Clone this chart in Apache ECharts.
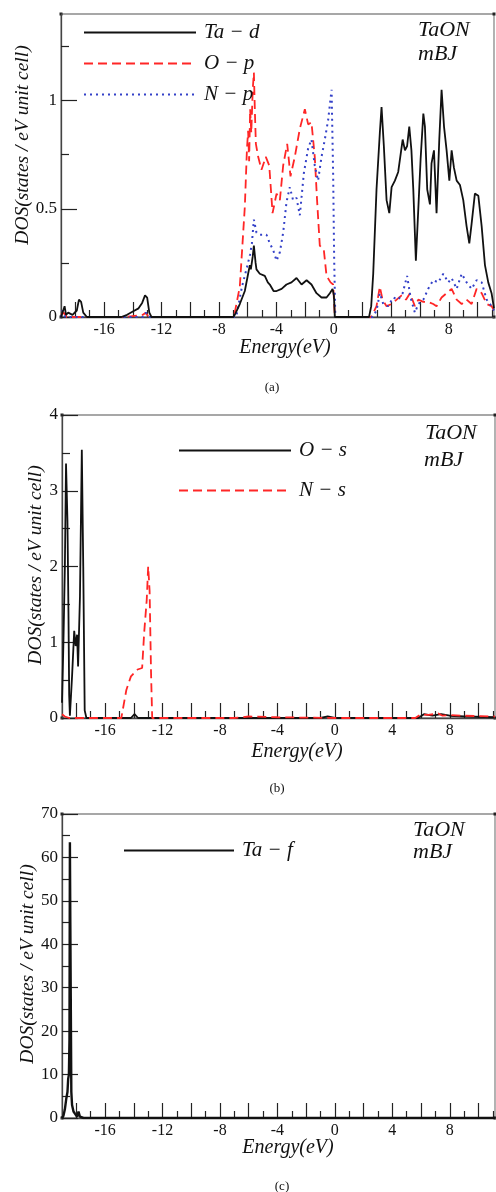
<!DOCTYPE html>
<html>
<head>
<meta charset="utf-8">
<script src="https://cdn.jsdelivr.net/npm/echarts@6/dist/echarts.min.js"></script>
<style>
html,body{margin:0;padding:0;background:#fff}
#main{width:496px;height:1192px}
</style>
</head>
<body>
<div id="main"></div>
<script>
// energy ticks (eV)
var eLabels = [-16, -12, -8, -4, 0, 4, 8];
var eMajor = [-18, -16, -14, -12, -10, -8, -6, -4, -2, 0, 2, 4, 6, 8, 10];
var eMinor = [-17, -15, -13, -11, -9, -7, -5, -3, -1, 1, 3, 5, 7, 9, 11];

// panel (a) y ticks
var yaMajor = [0, 0.5, 1];
var yaMinor = [0.25, 0.75, 1.25];
// panel (b) y ticks
var ybMajor = [0, 1, 2, 3, 4];
var ybMinor = [0.5, 1.5, 2.5, 3.5];
// panel (c) y ticks
var ycMajor = [0, 10, 20, 30, 40, 50, 60, 70];
var ycMinor = [5, 15, 25, 35, 45, 55, 65];

// (a) Ta-d
var taD = [[-19,0],[-18.9,0.02],[-18.75,0.05],[-18.65,0.01],[-18.5,0.02],[-18.2,0.01],[-17.9,0.03],[-17.75,0.08],[-17.6,0.07],[-17.45,0.02],[-17.2,0],
  [-14.8,0],[-14.4,0.01],[-14,0.025],[-13.6,0.04],[-13.35,0.065],[-13.15,0.1],[-13.0,0.09],[-12.85,0.02],[-12.7,0],
  [-7,0],[-6.9,0.01],[-6.55,0.06],[-6.2,0.12],[-5.97,0.2],[-5.85,0.24],[-5.78,0.22],[-5.65,0.28],[-5.57,0.33],[-5.45,0.25],[-5.39,0.22],
  [-5.16,0.2],[-4.81,0.19],[-4.6,0.16],[-4.46,0.15],[-4.2,0.12],[-3.99,0.12],[-3.64,0.13],[-3.3,0.15],[-2.95,0.16],[-2.6,0.18],
  [-2.25,0.15],[-1.9,0.17],[-1.56,0.15],[-1.21,0.11],[-0.86,0.09],[-0.51,0.09],[-0.28,0.11],[-0.09,0.13],[0.0,0.1],[0.07,0],
  [2.45,0],[2.6,0.05],[2.74,0.2],[2.97,0.59],[3.2,0.85],[3.32,0.97],[3.48,0.79],[3.67,0.54],[3.86,0.48],[4.02,0.6],[4.25,0.63],
  [4.48,0.67],[4.79,0.82],[4.95,0.77],[5.1,0.79],[5.25,0.88],[5.4,0.77],[5.53,0.59],[5.71,0.26],[5.88,0.5],[6.04,0.73],[6.23,0.94],
  [6.34,0.88],[6.5,0.59],[6.69,0.52],[6.8,0.71],[6.97,0.77],[7.15,0.48],[7.34,0.82],[7.5,1.05],[7.67,0.88],[7.85,0.77],[8.04,0.63],
  [8.2,0.77],[8.36,0.69],[8.55,0.63],[8.78,0.61],[9.01,0.54],[9.24,0.42],[9.43,0.34],[9.59,0.43],[9.82,0.57],[10.06,0.56],
  [10.29,0.42],[10.52,0.24],[10.75,0.16],[10.98,0.11],[11.15,0.04]];

// (a) O-p
var oP = [[-19,0.01],[-18.8,0.02],[-18.6,0],[-14.5,0],[-13.3,0.01],[-13.1,0.02],[-12.9,0],
  [-7,0],[-6.9,0.02],[-6.55,0.14],[-6.2,0.51],[-6.05,0.78],[-5.97,0.86],[-5.9,0.72],[-5.83,0.96],[-5.75,0.85],[-5.65,1.05],[-5.57,1.13],[-5.5,0.95],[-5.43,0.8],
  [-5.27,0.74],[-5.04,0.68],[-4.74,0.74],[-4.5,0.7],[-4.27,0.48],[-3.99,0.57],[-3.76,0.54],[-3.53,0.7],[-3.25,0.8],[-3.02,0.65],
  [-2.72,0.74],[-2.37,0.87],[-2.02,0.96],[-1.79,0.89],[-1.56,0.9],[-1.33,0.74],[-1.17,0.54],[-0.98,0.33],[-0.7,0.31],[-0.51,0.19],
  [-0.23,0.16],[-0.05,0.15],[0.07,0],
  [2.6,0],[2.97,0.05],[3.2,0.14],[3.39,0.08],[3.67,0.05],[4.02,0.06],[4.37,0.08],[4.72,0.1],[5.02,0.08],[5.3,0.11],[5.64,0.05],
  [5.88,0.08],[6.23,0.07],[6.57,0.07],[6.92,0.06],[7.15,0.05],[7.5,0.09],[7.85,0.11],[8.2,0.13],[8.55,0.08],[8.9,0.06],[9.24,0.08],
  [9.59,0.06],[9.94,0.13],[10.29,0.11],[10.64,0.06],[10.98,0.05],[11.15,0.03]];

// (a) N-p
var nP = [[-19,0],[-18.9,0.03],[-18.7,0],[-13.3,0],[-13.1,0.02],[-12.9,0],
  [-6.8,0],[-6.4,0.14],[-6.05,0.23],[-5.83,0.29],[-5.71,0.34],[-5.57,0.45],[-5.39,0.39],[-5.16,0.38],[-4.69,0.38],[-4.46,0.34],
  [-4.23,0.31],[-3.99,0.26],[-3.76,0.3],[-3.53,0.39],[-3.3,0.53],[-3.07,0.6],[-2.84,0.54],[-2.6,0.55],[-2.37,0.47],[-2.09,0.665],
  [-1.79,0.78],[-1.56,0.82],[-1.33,0.7],[-1.1,0.63],[-0.86,0.74],[-0.63,0.82],[-0.4,0.91],[-0.16,1.05],[-0.05,0.66],[0.02,0.27],[0.1,0],
  [2.7,0],[2.97,0.03],[3.2,0.11],[3.44,0.06],[3.78,0.05],[4.13,0.09],[4.48,0.08],[4.79,0.11],[5.1,0.19],[5.34,0.09],[5.64,0.02],
  [5.88,0.06],[6.23,0.08],[6.57,0.13],[6.92,0.17],[7.27,0.16],[7.62,0.2],[7.97,0.16],[8.2,0.18],[8.55,0.13],[8.9,0.2],[9.24,0.16],
  [9.59,0.13],[9.94,0.17],[10.29,0.16],[10.64,0.08],[10.98,0.05],[11.15,0.03]];

// (b) O-s
var oS = [[-19,0.2],[-18.9,1.0],[-18.8,2.0],[-18.72,3.36],[-18.62,2.6],[-18.55,1.4],[-18.5,0.3],[-18.45,0.03],[-18.3,0.55],[-18.15,1.15],
  [-18.05,0.95],[-17.95,1.1],[-17.88,0.68],[-17.75,1.6],[-17.62,3.54],[-17.52,2.0],[-17.42,0.1],[-17.3,0],
  [-14.2,0],[-13.95,0.05],[-13.7,0],[-1,0],[-0.5,0.02],[0,0],[5.8,0],[6.2,0.05],[6.8,0.03],[7.4,0.05],[8,0.03],[9,0.02],[11.15,0.01]];

// (b) N-s
var nS = [[-19,0.05],[-18.8,0.02],[-18.5,0],[-14.87,0],[-14.52,0.37],[-14.2,0.55],[-14.05,0.58],[-13.93,0.57],[-13.74,0.64],
  [-13.42,0.66],[-13.28,1.12],[-13.1,1.56],[-13.0,2.0],[-12.9,1.68],[-12.8,0.6],[-12.72,0],
  [-7,0],[-6,0.02],[-4,0.01],[0,0],[5.6,0],[6,0.05],[6.5,0.04],[7.2,0.06],[7.5,0.03],[8,0.04],[9,0.03],[11.15,0.02]];

// (c) Ta-f
var taF = [[-19,0],[-18.9,0.5],[-18.8,2],[-18.7,4.5],[-18.62,6],[-18.57,9],[-18.52,10],[-18.48,18],[-18.45,63.5],[-18.42,45],
  [-18.39,28],[-18.35,6],[-18.3,3],[-18.2,1.5],[-18.1,1],[-17.95,0.3],[-17.85,1.5],[-17.75,0.3],[-17.5,0],[11.15,0]];

var serif = '"Liberation Serif", "DejaVu Serif", serif';
var grids = [
    {left: 61, top: 14, width: 433, height: 303},
    {left: 62, top: 415, width: 433, height: 303},
    {left: 62, top: 814, width: 433, height: 304}
];
var yRanges = [[0, 1.4, yaMajor, yaMinor], [0, 4, ybMajor, ybMinor], [0, 70, ycMajor, ycMinor]];

var xAxes = [], yAxes = [];
grids.forEach(function (g, i) {
    g.show = true;
    g.borderColor = '#8a8a8a';
    g.borderWidth = 1.3;
    xAxes.push({
        gridIndex: i, type: 'value', min: -19, max: 11.15, position: 'bottom',
        axisLine: {onZero: false, lineStyle: {color: '#444', width: 1.3}},
        axisTick: {inside: true, length: 15, customValues: eMajor, lineStyle: {color: '#222', width: 1.2}},
        axisLabel: {customValues: eLabels, fontFamily: serif, fontSize: 16, color: '#111', margin: 5},
        splitLine: {show: false}
    });
    xAxes.push({
        gridIndex: i, type: 'value', min: -19, max: 11.15, position: 'bottom',
        axisLine: {show: false, onZero: false},
        axisTick: {inside: true, length: 7, customValues: eMinor, lineStyle: {color: '#222', width: 1.2}},
        axisLabel: {show: false},
        splitLine: {show: false}
    });
    var r = yRanges[i];
    yAxes.push({
        gridIndex: i, type: 'value', min: r[0], max: r[1], position: 'left',
        axisLine: {onZero: false, lineStyle: {color: '#444', width: 1.3}},
        axisTick: {inside: true, length: 16, customValues: r[2], lineStyle: {color: '#222', width: 1.2}},
        axisLabel: {customValues: r[2], fontFamily: serif, fontSize: 17, color: '#111', margin: 4},
        splitLine: {show: false}
    });
    yAxes.push({
        gridIndex: i, type: 'value', min: r[0], max: r[1], position: 'left',
        axisLine: {show: false, onZero: false},
        axisTick: {inside: true, length: 8, customValues: r[3], lineStyle: {color: '#222', width: 1.2}},
        axisLabel: {show: false},
        splitLine: {show: false}
    });
});

function mk(name, data, gi, color, width, type) {
    return {
        name: name, type: 'line', data: data, xAxisIndex: gi * 2, yAxisIndex: gi * 2,
        symbol: 'none', smooth: false, animation: false,
        lineStyle: {color: color, width: width, type: type}, itemStyle: {color: color}
    };
}
var RED = '#ff2626', BLUE = '#3340c8', BLACK = '#111';
var series = [
    mk('O − p', oP, 0, RED, 1.8, [9, 5]),
    mk('N − p', nP, 0, BLUE, 2, [2, 4]),
    mk('Ta − d', taD, 0, BLACK, 1.8, 'solid'),
    mk('O − s', oS, 1, BLACK, 1.8, 'solid'),
    mk('N − s', nS, 1, RED, 1.8, [9, 5]),
    mk('Ta − f', taF, 2, BLACK, 2.4, 'solid')
];

var legTxt = {fontFamily: serif, fontStyle: 'italic', fontSize: 21, color: '#111', lineHeight: 20, padding: [0, 0, 0, 3]};
var legIconStyle = {opacity: 0};
var legends = [
    {left: 83, top: 22, padding: 0, orient: 'vertical', itemWidth: 112, itemHeight: 20, itemGap: 10, itemStyle: legIconStyle,
        data: ['Ta − d', 'O − p', 'N − p'], textStyle: legTxt, selectedMode: false},
    {left: 178, top: 440, padding: 0, orient: 'vertical', itemWidth: 112, itemHeight: 20, itemGap: 19, itemStyle: legIconStyle,
        data: ['O − s', 'N − s'], textStyle: legTxt, selectedMode: false},
    {left: 123, top: 840, padding: 0, orient: 'vertical', itemWidth: 110, itemHeight: 20, itemGap: 10, itemStyle: legIconStyle,
        data: ['Ta − f'], textStyle: legTxt, selectedMode: false}
];

function txt(s, x, y, size, italic, align, rot) {
    return {
        type: 'text', x: x, y: y, rotation: rot || 0, silent: true,
        style: {text: s, fontFamily: serif, fontSize: size, fontStyle: italic ? 'italic' : 'normal', fill: '#111',
            align: align || 'center', verticalAlign: 'middle', textAlign: align || 'center', textVerticalAlign: 'middle'}
    };
}
var yName = 'DOS(states / eV unit cell)';
var gfx = [
    txt('TaON', 418, 30, 22, true, 'left'), txt('mBJ', 418, 54, 22, true, 'left'),
    txt('TaON', 425, 433, 22, true, 'left'), txt('mBJ', 424, 460, 22, true, 'left'),
    txt('TaON', 413, 830, 22, true, 'left'), txt('mBJ', 413, 852, 22, true, 'left'),
    txt('Energy(eV)', 285, 348, 20, true), txt('Energy(eV)', 297, 752, 20, true), txt('Energy(eV)', 288, 1148, 20, true),
    txt(yName, 23, 145, 19.5, true, 'center', Math.PI / 2),
    txt(yName, 36, 565, 19.5, true, 'center', Math.PI / 2),
    txt(yName, 28, 964, 19.5, true, 'center', Math.PI / 2),
    txt('(a)', 272, 388, 13, false), txt('(b)', 277, 789, 13, false), txt('(c)', 282, 1187, 13, false)
];
// small corner markers of each frame
grids.forEach(function (g) {
    [[g.left, g.top], [g.left + g.width, g.top], [g.left + g.width, g.top + g.height], [g.left, g.top + g.height]].forEach(function (p) {
        gfx.push({type: 'rect', silent: true, shape: {x: p[0] - 1.5, y: p[1] - 1.5, width: 3, height: 3}, style: {fill: '#222'}});
    });
});

var myChart = echarts.init(document.getElementById('main'), null, {renderer: 'canvas'});
myChart.setOption({
    animation: false,
    backgroundColor: '#fff',
    grid: grids,
    xAxis: xAxes,
    yAxis: yAxes,
    legend: legends,
    series: series,
    graphic: gfx
});
</script>
</body>
</html>
